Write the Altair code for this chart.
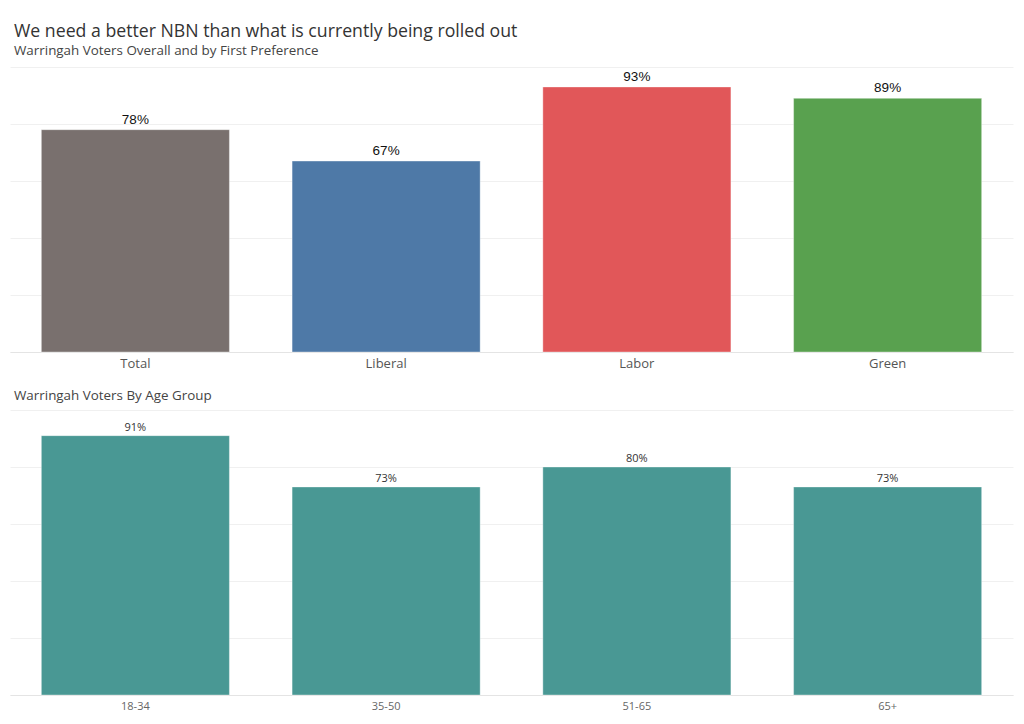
import altair as alt
import pandas as pd

title_text = "We need a better NBN than what is currently being rolled out"
subtitle_text = "Warringah Voters Overall and by First Preference"
bottom_title = "Warringah Voters By Age Group"

parties = ["Total", "Liberal", "Labor", "Green"]
party_values = [78, 67, 93, 89]
party_colors = ["#79706E", "#4E79A7", "#E15759", "#59A14F"]

ages = ["18-34", "35-50", "51-65", "65+"]
age_values = [91, 73, 80, 73]
age_color = "#499894"

FONT = "Open Sans"

df1 = pd.DataFrame({"group": parties, "value": party_values,
                    "label": [f"{v}%" for v in party_values]})
df2 = pd.DataFrame({"group": ages, "value": age_values,
                    "label": [f"{v}%" for v in age_values]})

W = 1003
H = 285


def panel(df, order, color_enc, label_font, label_size, label_color, x_label_size, x_label_color):
    x = alt.X("group:N", sort=order, title=None,
              scale=alt.Scale(paddingInner=0.25, paddingOuter=0.125),
              axis=alt.Axis(labelAngle=0, ticks=False, domain=True, domainColor="#e4e4e4",
                            labelFont=FONT, labelFontSize=x_label_size, labelColor=x_label_color,
                            labelPadding=5, grid=False))
    y = alt.Y("value:Q", title=None,
              scale=alt.Scale(domain=[0, 100], nice=False),
              axis=alt.Axis(labels=False, ticks=False, domain=False, grid=True,
                            gridColor="#f0f0f0", values=[0, 20, 40, 60, 80, 100]))
    bars = alt.Chart(df).mark_bar(stroke="#ffffff", strokeWidth=0.6, strokeOpacity=0.6).encode(
        x=x, y=y, color=color_enc)
    text = alt.Chart(df).mark_text(baseline="bottom", dy=-3, font=label_font,
                                   fontSize=label_size, color=label_color).encode(
        x=alt.X("group:N", sort=order), y="value:Q", text="label:N")
    return bars + text


top = panel(
    df1, parties,
    alt.Color("group:N", scale=alt.Scale(domain=parties, range=party_colors), legend=None),
    "Liberation Sans", 13.5, "#111111", 13, "#555555",
).properties(width=W, height=H)

bottom = panel(
    df2, ages,
    alt.value(age_color),
    FONT, 11, "#333333", 11, "#666666",
).properties(width=W, height=H,
             title=alt.TitleParams(bottom_title, anchor="start", font=FONT, fontSize=13.4,
                                   fontWeight="normal", color="#444444", dx=4, offset=8))

chart = alt.vconcat(top, bottom, spacing=18).properties(
    title=alt.TitleParams(title_text, subtitle=subtitle_text, anchor="start",
                          font=FONT, fontSize=17.7, fontWeight="normal", color="#333333",
                          subtitleFont=FONT, subtitleFontSize=13.4, subtitleColor="#444444",
                          subtitlePadding=3, dx=4, offset=10),
    padding={"left": 2, "top": 14, "right": 2, "bottom": 0},
).configure_view(strokeWidth=0)

chart.save("out.html", embed_options={"renderer": "svg", "actions": False})
